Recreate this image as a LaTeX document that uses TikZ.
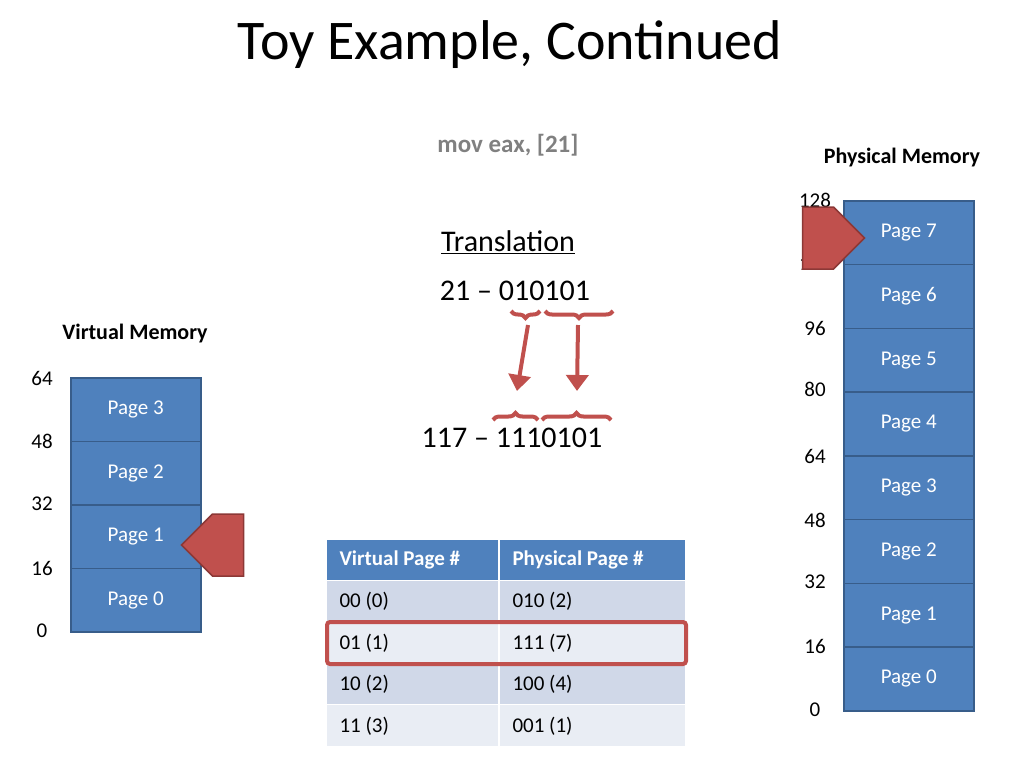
\documentclass[tikz,border=0pt]{standalone}
\usepackage{fontspec}
\setmainfont{Carlito}
\usetikzlibrary{decorations.pathreplacing,shapes.arrows,arrows.meta}
\definecolor{pblue}{RGB}{79,129,189}
\definecolor{pbord}{RGB}{56,93,138}
\definecolor{ared}{RGB}{192,80,77}
\definecolor{ardark}{RGB}{140,56,54}
\definecolor{rowa}{RGB}{208,216,232}
\definecolor{rowb}{RGB}{233,237,244}
\begin{document}
\begin{tikzpicture}[x=1pt,y=-1pt,
  pagebox/.style={draw=pbord,line width=1.5pt,fill=pblue,text=white,font=\fontsize{21}{24}\selectfont},
  num/.style={font=\fontsize{21}{24}\selectfont},
  cell/.style={font=\fontsize{21}{24}\selectfont,anchor=west},
  hcell/.style={font=\bfseries\fontsize{21}{24}\selectfont,anchor=west,text=white},
  bigarrow/.style={single arrow,draw=ardark,fill=ared,line width=1.5pt,minimum height=62pt,minimum width=62pt,single arrow head extend=0pt,inner sep=7pt},
  brc/.style={draw=ared,line width=4pt,decorate,decoration={brace,amplitude=7pt}},
  rarr/.style={draw=ared,line width=4pt,-{Triangle[length=16pt,width=22pt]}}]
\useasboundingbox (0,0) rectangle (1024,768);
\node (title) at (510,45) {\fontsize{56}{60}\selectfont Toy Example, Continued};
\node[text=gray,font=\bfseries\fontsize{25}{28}\selectfont] (mov) at (508,145) {mov eax, [21]};
\node[font=\bfseries\fontsize{22}{26}\selectfont] (pm) at (902,158) {Physical Memory};
\node[font=\bfseries\fontsize{22}{26}\selectfont] (vm) at (135,334) {Virtual Memory};
% physical
\foreach \i in {0,...,7}{
  \pgfmathsetmacro\yt{710-(\i+1)*63.75}
  \node[pagebox,minimum width=130pt,minimum height=63.75pt,anchor=north west] (pp\i) at (843,\yt) {Page \i};
}
\foreach \v/\y in {0/710,16/646,32/582,48/520,64/456,80/389,96/328,112/264,128/200}
  \node[num] (pl\v) at (815,\y) {\v};
% virtual
\foreach \i in {0,...,3}{
  \pgfmathsetmacro\yt{630-(\i+1)*63.5}
  \node[pagebox,minimum width=130pt,minimum height=63.5pt,anchor=north west,yshift=-1pt] (vp\i) at (70,\yt) {Page \i};
}
\foreach \v/\y in {0/631,16/568,32/504,48/441,64/378}
  \node[num] (vl\v) at (42,\y) {\v};
% arrows
\node[bigarrow] (a1) at (818,238) {};
\node[bigarrow,shape border rotate=180] (a2) at (228,545) {};
% translation
\node[font=\fontsize{30}{34}\selectfont] (tr) at (508,242) {\underline{Translation}};
\node[font=\fontsize{30}{34}\selectfont] (n21) at (515,291) {21 – 010101};
\node[font=\fontsize{30}{34}\selectfont] (n117) at (512,438) {117 – 1110101};
\draw[brc,decoration={mirror}] (511,311) -- (540,311);
\draw[brc,decoration={mirror}] (545,311) -- (613,311);
\draw[brc] (493,420) -- (538,420);
\draw[brc] (542,420) -- (611,420);
\coordinate (s1) at (528,325); \coordinate (e1) at (517,391);
\coordinate (s2) at (578,325); \coordinate (e2) at (577,391);
\draw[rarr] (s1) -- (e1);
\draw[rarr] (s2) -- (e2);
% table
\fill[pblue] (327,540) rectangle (685,580);
\fill[rowa] (327,581) rectangle (685,621);
\fill[rowb] (327,622) rectangle (685,663);
\fill[rowa] (327,664) rectangle (685,704);
\fill[rowb] (327,705) rectangle (685,746);
\draw[white,line width=1.5pt] (499,540) -- (499,746);
\node[hcell] (h1) at (336,560) {Virtual Page \#};
\node[hcell] (h2) at (509,560) {Physical Page \#};
\node[cell] (c1) at (336,601) {00 (0)}; \node[cell] (d1) at (509,601) {010 (2)};
\node[cell] (c2) at (336,643) {01 (1)}; \node[cell] (d2) at (509,643) {111 (7)};
\node[cell] (c3) at (336,684) {10 (2)}; \node[cell] (d3) at (509,684) {100 (4)};
\node[cell] (c4) at (336,726) {11 (3)}; \node[cell] (d4) at (509,726) {001 (1)};
\draw[ared,line width=4pt,rounded corners=3pt] (327,622) rectangle (686,664);
\end{tikzpicture}
\end{document}
